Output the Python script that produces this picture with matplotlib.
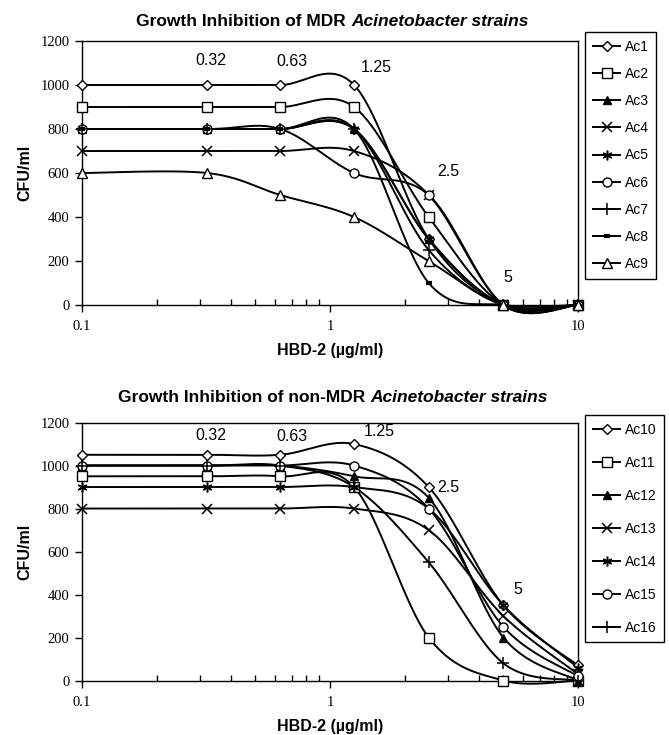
import matplotlib
matplotlib.use('Agg')
import matplotlib.pyplot as plt
import numpy as np
from matplotlib.offsetbox import TextArea, HPacker, AnchoredOffsetbox
from matplotlib.ticker import FixedLocator, NullFormatter

# HBD-2 concentrations (ug/ml)
conc = [0.1, 0.32, 0.63, 1.25, 2.5, 5, 10]
conc_labels = ['0.32', '0.63', '1.25', '2.5', '5']

# MDR strains, CFU/ml
ac1 = [1000, 1000, 1000, 1000, 300, 0, 0]
ac2 = [900, 900, 900, 900, 400, 0, 0]
ac3 = [800, 800, 800, 800, 300, 0, 0]
ac4 = [700, 700, 700, 700, 500, 0, 0]
ac5 = [800, 800, 800, 800, 300, 0, 0]
ac6 = [800, 800, 800, 600, 500, 0, 0]
ac7 = [800, 800, 800, 800, 250, 0, 0]
ac8 = [800, 800, 800, 800, 100, 0, 0]
ac9 = [600, 600, 500, 400, 200, 0, 0]
mdr_names = ['Ac1', 'Ac2', 'Ac3', 'Ac4', 'Ac5', 'Ac6', 'Ac7', 'Ac8', 'Ac9']
mdr_values = [ac1, ac2, ac3, ac4, ac5, ac6, ac7, ac8, ac9]

# non-MDR strains, CFU/ml
ac10 = [1050, 1050, 1050, 1100, 900, 350, 70]
ac11 = [950, 950, 950, 900, 200, 0, 0]
ac12 = [1000, 1000, 1000, 950, 850, 200, 0]
ac13 = [800, 800, 800, 800, 700, 300, 30]
ac14 = [900, 900, 900, 900, 800, 350, 60]
ac15 = [1000, 1000, 1000, 1000, 800, 250, 20]
ac16 = [1000, 1000, 1000, 900, 550, 80, 0]
non_names = ['Ac10', 'Ac11', 'Ac12', 'Ac13', 'Ac14', 'Ac15', 'Ac16']
non_values = [ac10, ac11, ac12, ac13, ac14, ac15, ac16]

SANS = 'Liberation Sans'
SERIF = 'Liberation Serif'

# marker style per strain order (diamond, square, filled triangle, x, star, circle, plus, dash, triangle)
marker_styles = [
    dict(marker='D', ms=5, mfc='white'),
    dict(marker='s', ms=6.5, mfc='white'),
    dict(marker='^', ms=6, mfc='black'),
    dict(marker='x', ms=7, mew=1.1),
    dict(marker=(6, 2, 0), ms=7, mew=1.1),
    dict(marker='o', ms=6.5, mfc='white'),
    dict(marker='+', ms=8, mew=1.1),
    dict(marker='_', ms=5, mew=3),
    dict(marker='^', ms=6.5, mfc='white'),
]


def smooth(xs, ys, n=40):
    # Excel style smoothed line: cubic bezier through points (Catmull-Rom), log x
    pts = np.column_stack([np.log10(xs), np.asarray(ys, float)])
    P = np.vstack([pts[0], pts, pts[-1]])
    t = np.linspace(0, 1, n)[:, None]
    out = []
    for i in range(len(pts) - 1):
        p0, p1, p2, p3 = P[i], P[i + 1], P[i + 2], P[i + 3]
        c1 = p1 + (p2 - p0) / 6
        c2 = p2 - (p3 - p1) / 6
        seg = (1 - t) ** 3 * p1 + 3 * (1 - t) ** 2 * t * c1 + 3 * (1 - t) * t ** 2 * c2 + t ** 3 * p2
        out.append(seg if i == 0 else seg[1:])
    curve = np.vstack(out)
    return 10 ** curve[:, 0], curve[:, 1]


def mixed_title(fig, y, plain, ital):
    tp = dict(fontsize=12.5, fontweight='bold', family=SANS)
    t1 = TextArea(plain, textprops=tp)
    t2 = TextArea(ital, textprops=dict(tp, style='italic'))
    box = HPacker(children=[t1, t2], align='baseline', pad=0, sep=3.5)
    ab = AnchoredOffsetbox(loc='center', child=box, pad=0, borderpad=0, frameon=False,
                           bbox_to_anchor=(0.497, y), bbox_transform=fig.transFigure)
    fig.add_artist(ab)


def draw_panel(ax, names, values, label_pos, legend_box, spacing):
    for name, vals, st in zip(names, values, marker_styles):
        sx, sy = smooth(conc, vals)
        ax.plot(sx, sy, color='black', lw=1.4, clip_on=False, zorder=3)
        ax.plot(conc, vals, linestyle='none', color='black', mec='black', clip_on=False, zorder=4, **st)
        # legend proxy
        ax.plot([], [], color='black', lw=1.4, mec='black', label=name, **st)

    for txt, (px, py) in zip(conc_labels, label_pos):
        ax.text(px, py, txt, ha='center', va='center', fontsize=11.5, family=SANS)

    ax.set_xscale('log')
    ax.set_xlim(0.1, 10)
    ax.set_ylim(0, 1200)
    ax.set_yticks(range(0, 1201, 200))
    ax.set_yticklabels([str(v) for v in range(0, 1201, 200)], family=SERIF, fontsize=10.5)
    ax.xaxis.set_major_locator(FixedLocator([0.1, 1, 10]))
    ax.set_xticklabels(['0.1', '1', '10'], family=SERIF, fontsize=10.5)
    minors = [m * d for d in (0.1, 1) for m in range(2, 10)]
    ax.xaxis.set_minor_locator(FixedLocator(minors))
    ax.xaxis.set_minor_formatter(NullFormatter())
    ax.tick_params(axis='x', which='major', direction='out', length=5, width=1, pad=6)
    ax.tick_params(axis='x', which='minor', direction='in', length=4, width=1)
    ax.tick_params(axis='y', direction='out', length=5, width=1, pad=4)
    for sp in ax.spines.values():
        sp.set_linewidth(1)
        sp.set_color('black')

    ax.set_ylabel('CFU/ml', fontsize=11.5, fontweight='bold', family=SANS, labelpad=6)
    ax.set_xlabel('HBD-2 (\u00b5g/ml)', fontsize=11.5, fontweight='bold', family=SANS, labelpad=7)

    leg = ax.legend(loc='upper left', bbox_to_anchor=legend_box, bbox_transform=ax.figure.transFigure,
                    frameon=True, fancybox=False, edgecolor='black', framealpha=1,
                    prop=dict(family=SANS, size=10), handlelength=2.0, handletextpad=0.3,
                    labelspacing=spacing, borderpad=0.55, borderaxespad=0)
    leg.get_frame().set_linewidth(1)


fig = plt.figure(figsize=(6.69, 7.35), dpi=100)
ax1 = fig.add_axes([0.1226, 0.585, 0.7414, 0.3592])
ax2 = fig.add_axes([0.1226, 0.0741, 0.7414, 0.351])

draw_panel(ax1, mdr_names, mdr_values,
           [(0.33, 1110), (0.70, 1105), (1.53, 1078), (2.99, 605), (5.2, 125)],
           (585 / 669, 1 - 32 / 735), 0.95)
draw_panel(ax2, non_names, non_values,
           [(0.33, 1140), (0.70, 1135), (1.58, 1160), (3.0, 900), (5.7, 425)],
           (585 / 669, 1 - 415 / 735), 1.37)

mixed_title(fig, 1 - 21 / 735, 'Growth Inhibition of MDR', 'Acinetobacter strains')
mixed_title(fig, 1 - 397 / 735, 'Growth Inhibition of non-MDR', 'Acinetobacter strains')

fig.savefig('out.png', dpi=100, facecolor='white')
